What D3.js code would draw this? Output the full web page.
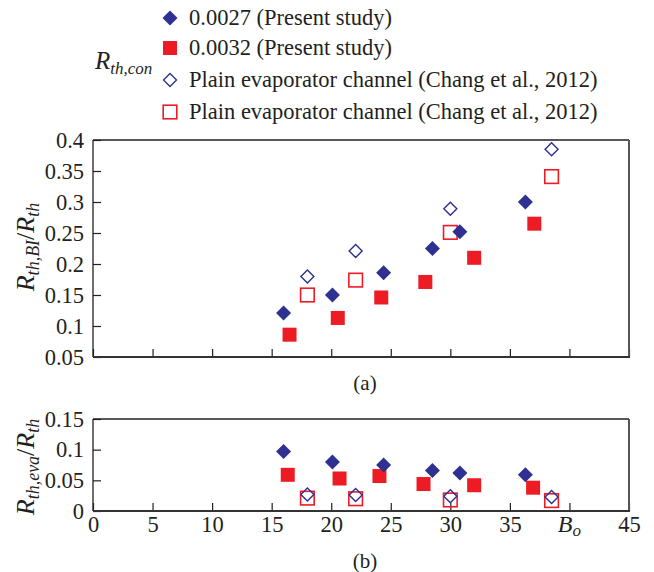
<!DOCTYPE html>
<html>
<head>
<meta charset="utf-8">
<script src="https://cdn.jsdelivr.net/npm/d3@7"></script>
<style>
    body { margin: 0; background: #fff; }
    svg text { font-family: "Liberation Serif", "Times New Roman", serif; fill: #231f20; }
</style>
</head>
<body>
<svg id="chart" width="654" height="572"></svg>
<script>
// Data
var boBlue = [16.0, 20.1, 24.4, 28.5, 30.8, 36.3];
var biBlue = [0.121, 0.150, 0.186, 0.225, 0.252, 0.300];
var evaBlue = [0.097, 0.080, 0.075, 0.066, 0.062, 0.059];

var boRedA = [16.5, 20.55, 24.2, 27.9, 32.0, 37.05];
var biRed = [0.086, 0.113, 0.146, 0.171, 0.210, 0.265];
var boRedB = [16.35, 20.7, 24.05, 27.75, 32.0, 36.95];
var evaRed = [0.059, 0.053, 0.057, 0.044, 0.042, 0.038];

var boPlain = [18.0, 22.05, 30.0, 38.5];
var biPlainBlue = [0.180, 0.221, 0.289, 0.385];
var biPlainRed = [0.150, 0.174, 0.251, 0.341];
var evaPlainBlue = [0.027, 0.026, 0.024, 0.023];
var evaPlainRed = [0.021, 0.020, 0.018, 0.017];

var legendLabels = [
    "0.0027 (Present study)",
    "0.0032 (Present study)",
    "Plain evaporator channel (Chang et al., 2012)",
    "Plain evaporator channel (Chang et al., 2012)"
];
var xTicks = [0, 5, 10, 15, 20, 25, 30, 35, 40, 45];
var xTickLabels = ["0", "5", "10", "15", "20", "25", "30", "35", "", "45"];
var yTicksA = [0.05, 0.1, 0.15, 0.2, 0.25, 0.3, 0.35, 0.4];
var yTicksB = [0, 0.05, 0.1, 0.15];

var BLUE = "#2e3192";
var RED = "#ed1c24";

var svg = d3.select("#chart");

var x = d3.scaleLinear().domain([0, 45]).range([93, 629]);
var yA = d3.scaleLinear().domain([0.05, 0.4]).range([357, 140]);
var yB = d3.scaleLinear().domain([0, 0.15]).range([511, 419]);

// marker painters
var markers = {
    fillDiamond: function(g) {
        g.append("path").attr("d", "M0,-7.5L7.5,0L0,7.5L-7.5,0Z").attr("fill", BLUE);
    },
    fillSquare: function(g) {
        g.append("rect").attr("x", -7).attr("y", -7).attr("width", 14).attr("height", 14)
            .attr("fill", RED);
    },
    openDiamond: function(g) {
        g.append("path").attr("d", "M0,-6.5L6.5,0L0,6.5L-6.5,0Z")
            .attr("fill", "none").attr("stroke", BLUE).attr("stroke-width", 1.4);
    },
    openSquare: function(g) {
        g.append("rect").attr("x", -6.8).attr("y", -6.8).attr("width", 13.6).attr("height", 13.6)
            .attr("fill", "none").attr("stroke", RED).attr("stroke-width", 1.6);
    }
};

var drawSeries = function(layer, xs, ys, yScale, kind) {
    layer.append("g").selectAll("g")
        .data(d3.zip(xs, ys))
        .join("g")
        .attr("transform", function(d) { return "translate(" + x(d[0]) + "," + yScale(d[1]) + ")"; })
        .each(function() { markers[kind](d3.select(this)); });
};

var drawFrame = function(yScale) {
    var r = yScale.range();
    var x0 = x.range()[0], x1 = x.range()[1];
    svg.append("line").attr("x1", x0).attr("x2", x0).attr("y1", r[1]).attr("y2", r[0])
        .attr("stroke", "#231f20").attr("stroke-width", 1.3);
    svg.append("line").attr("x1", x0).attr("x2", x1).attr("y1", r[1]).attr("y2", r[1])
        .attr("stroke", "#231f20").attr("stroke-width", 1.3);
    svg.append("line").attr("x1", x1).attr("x2", x1).attr("y1", r[1]).attr("y2", r[0])
        .attr("stroke", "#555").attr("stroke-width", 2);
    svg.append("line").attr("x1", x0).attr("x2", x1 + 1).attr("y1", r[0]).attr("y2", r[0])
        .attr("stroke", "#333").attr("stroke-width", 1.8);
};

var styleAxis = function(g) {
    g.select(".domain").remove();
    g.selectAll(".tick line").attr("stroke", "#231f20").attr("stroke-width", 1.2);
    g.selectAll(".tick text").attr("font-size", "22.5px").attr("fill", "#231f20")
        .attr("font-family", "'Liberation Serif', serif");
};

// ---- panel (a)
svg.append("g")
    .attr("transform", "translate(" + x.range()[0] + ",0)")
    .call(d3.axisLeft(yA).tickValues(yTicksA).tickSizeInner(-8).tickSizeOuter(0).tickPadding(9)
        .tickFormat(function(d) { return String(d); }))
    .call(styleAxis);
svg.append("g")
    .attr("transform", "translate(0," + yA.range()[0] + ")")
    .call(d3.axisBottom(x).tickValues(xTicks).tickSizeInner(-8).tickSizeOuter(0).tickFormat(""))
    .call(styleAxis);
drawFrame(yA);

var layerA = svg.append("g");
drawSeries(layerA, boPlain, biPlainRed, yA, "openSquare");
drawSeries(layerA, boPlain, biPlainBlue, yA, "openDiamond");
drawSeries(layerA, boRedA, biRed, yA, "fillSquare");
drawSeries(layerA, boBlue, biBlue, yA, "fillDiamond");

// ---- panel (b)
svg.append("g")
    .attr("transform", "translate(" + x.range()[0] + ",0)")
    .call(d3.axisLeft(yB).tickValues(yTicksB).tickSizeInner(-8).tickSizeOuter(0).tickPadding(9)
        .tickFormat(function(d) { return String(d); }))
    .call(styleAxis);
svg.append("g")
    .attr("transform", "translate(0," + yB.range()[0] + ")")
    .call(d3.axisBottom(x).tickValues(xTicks).tickSizeInner(-8).tickSizeOuter(0).tickPadding(5)
        .tickFormat(function(d, i) { return xTickLabels[i]; }))
    .call(styleAxis);
drawFrame(yB);

var layerB = svg.append("g");
drawSeries(layerB, boPlain, evaPlainRed, yB, "openSquare");
drawSeries(layerB, boPlain, evaPlainBlue, yB, "openDiamond");
drawSeries(layerB, boRedB, evaRed, yB, "fillSquare");
drawSeries(layerB, boBlue, evaBlue, yB, "fillDiamond");

// B_o label in place of the 40 tick label
var bo = svg.append("text").attr("x", x(40)).attr("y", 532).attr("text-anchor", "middle")
    .attr("font-size", "24px").attr("font-style", "italic");
bo.append("tspan").text("B");
bo.append("tspan").attr("font-size", "17px").attr("dy", 4).text("o");

// panel captions
svg.append("text").attr("x", 365).attr("y", 390).attr("text-anchor", "middle")
    .attr("font-size", "21px").text("(a)");
svg.append("text").attr("x", 365).attr("y", 568).attr("text-anchor", "middle")
    .attr("font-size", "21px").text("(b)");

// y axis titles
var yTitle = function(cx, cy, sub) {
    var t = svg.append("text")
        .attr("transform", "translate(" + cx + "," + cy + ") rotate(-90)")
        .attr("text-anchor", "middle")
        .attr("font-size", "26px").attr("font-style", "italic");
    t.append("tspan").text("R");
    t.append("tspan").attr("font-size", "18px").attr("dy", 5).text(sub);
    t.append("tspan").attr("dy", -5).attr("font-style", "normal").text("/");
    t.append("tspan").text("R");
    t.append("tspan").attr("font-size", "18px").attr("dy", 5).text("th");
};
yTitle(34, 247, "th,BI");
yTitle(34, 467, "th,eva");

// legend
var legendKinds = ["fillDiamond", "fillSquare", "openDiamond", "openSquare"];
var legendY = [18, 48, 80, 112];
var legend = svg.append("g");
legendKinds.forEach(function(kind, i) {
    var g = legend.append("g").attr("transform", "translate(170," + legendY[i] + ")");
    markers[kind](g);
    legend.append("text").attr("x", 189).attr("y", legendY[i] + 7)
        .attr("font-size", "22.5px").text(legendLabels[i]);
});

var con = svg.append("text").attr("x", 95).attr("y", 69)
    .attr("font-size", "25px").attr("font-style", "italic");
con.append("tspan").text("R");
con.append("tspan").attr("font-size", "17px").attr("dy", 5).text("th,con");
</script>
</body>
</html>
